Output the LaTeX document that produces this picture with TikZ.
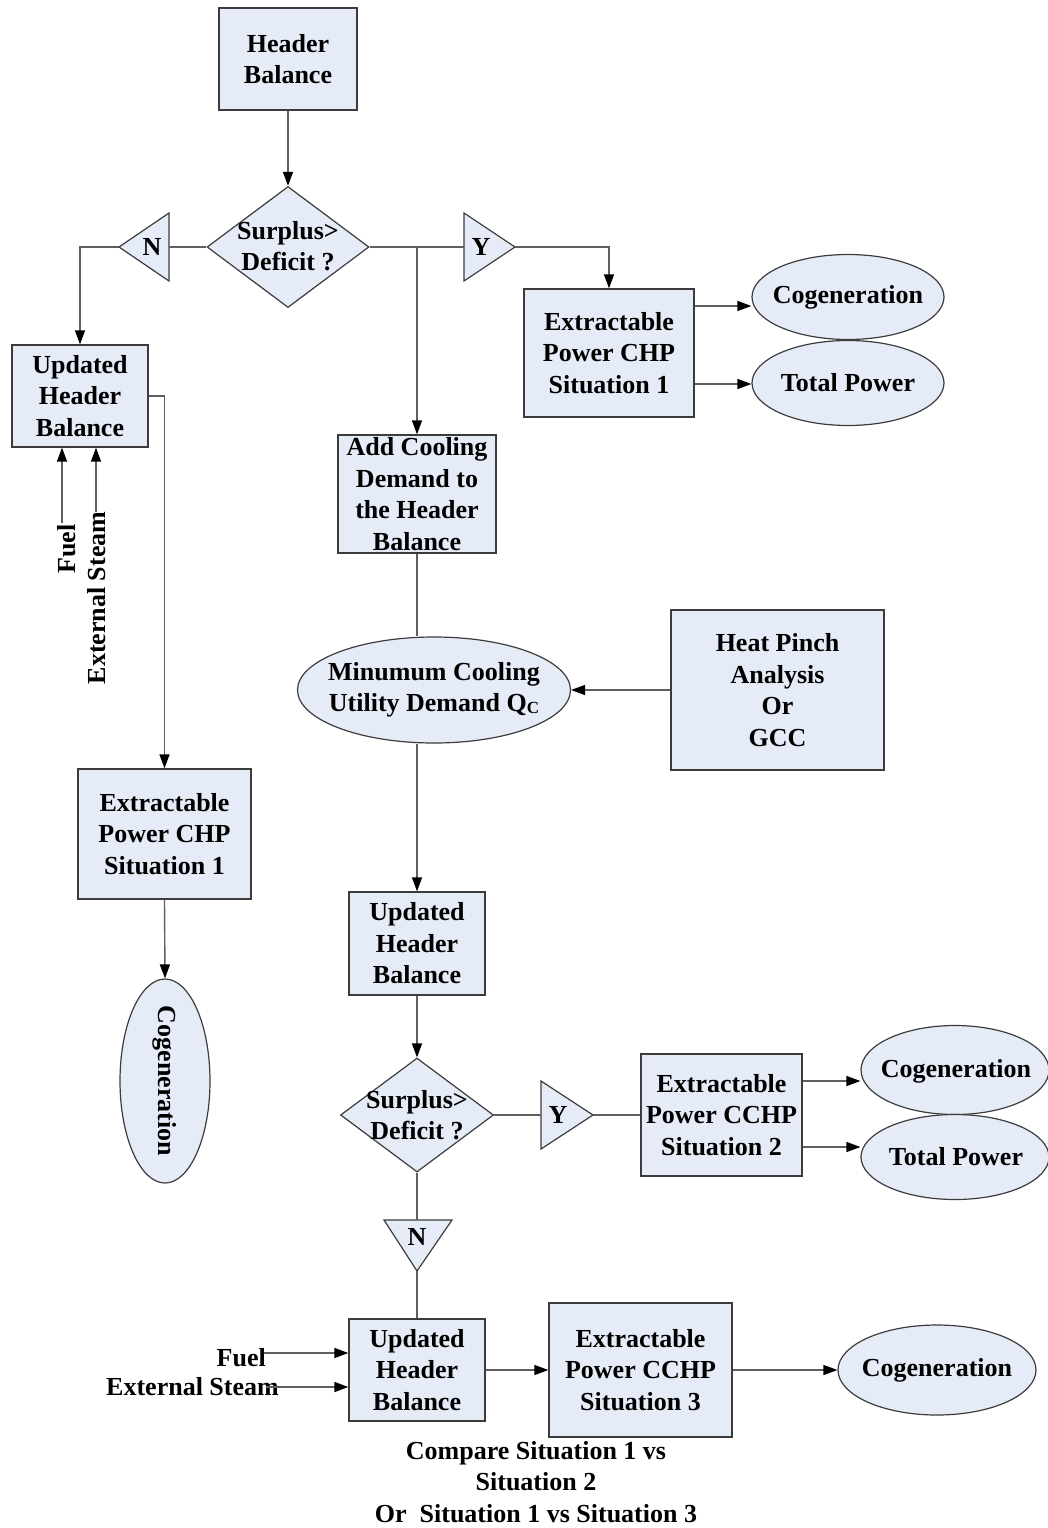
\documentclass[tikz,border=0pt]{standalone}
\usepackage{fontspec}
\setmainfont{Liberation Serif}
\usetikzlibrary{arrows.meta,shapes.geometric}
\definecolor{boxfill}{RGB}{230,236,247}
\definecolor{edge}{RGB}{60,60,60}
\definecolor{wire}{RGB}{95,95,95}

\begin{document}
\begin{tikzpicture}[x=1pt,y=-1pt,
  every node/.style={font=\bfseries\fontsize{26}{31.5}\selectfont, align=center, inner sep=0pt},
  box/.style={draw=edge, line width=1.3pt, fill=boxfill, rectangle},
  oval/.style={draw=edge, line width=1.2pt, fill=boxfill, ellipse},
  decide/.style={draw=edge, line width=1.2pt, fill=boxfill, diamond},
  flag/.style={draw=edge, line width=1.2pt, fill=boxfill, line join=miter},
  link/.style={draw=wire, line width=1.4pt},
  arrow/.style={link, -{Triangle[length=14pt,width=10pt,color=black]}},
]
\useasboundingbox (0,0) rectangle (1047,1528);

% ---------- top decision ----------
\node[box, minimum width=138pt, minimum height=102pt] (hb) at (288,59) {Header\\Balance};
\node[decide, minimum width=162pt, minimum height=121pt] (d1) at (288,247) {};
\node (d1t) at (288,246) {Surplus>\\Deficit ?};

% "N" flag pointing left
\draw[flag] (169,213) -- (169,281) -- (119,247) -- cycle;
\coordinate (n1b) at (169,247);
\coordinate (n1a) at (119,247);
\node (n1) at (152,247) {N};

% "Y" flag pointing right
\draw[flag] (464,213) -- (464,281) -- (515,247) -- cycle;
\coordinate (y1b) at (464,247);
\coordinate (y1a) at (515,247);
\node (y1) at (481,247) {Y};
\coordinate (j1) at (417,247);

% ---------- CHP situation 1 (right) ----------
\node[box, minimum width=170pt, minimum height=128pt] (ep1) at (609,353) {Extractable\\Power CHP\\Situation 1};
\node[oval, minimum width=192pt, minimum height=85pt] (cog1) at (848,297) {};
\node (cog1t) at (848,297) {Cogeneration};
\node[oval, minimum width=192pt, minimum height=85pt] (tp1) at (848,383) {};
\node (tp1t) at (848,383) {Total Power};
\coordinate (r1) at (0,306);
\coordinate (r2) at (0,384);

% ---------- left branch ----------
\node[box, minimum width=136pt, minimum height=102pt] (ub1) at (80,396) {Updated\\Header\\Balance};
\node[rotate=90] (fuel1) at (67,549) {Fuel};
\node[rotate=90] (steam1) at (96.5,598) {External Steam};
\coordinate (f1s) at (62,523);
\coordinate (s1s) at (96,512);
\node[box, minimum width=173pt, minimum height=130pt] (ep1l) at (164.5,834) {Extractable\\Power CHP\\Situation 1};
\node[oval, minimum width=90pt, minimum height=204pt] (cogv) at (165,1081) {};
\node[rotate=-90] (cogvt) at (165,1081) {Cogeneration};

% ---------- cooling branch ----------
\node[box, minimum width=158pt, minimum height=118pt] (ac) at (417,494) {Add Cooling\\Demand to\\the Header\\Balance};
\node[oval, minimum width=273pt, minimum height=106pt] (mc) at (434,690) {};
\node (mct) at (434,690) {Minumum Cooling\\Utility Demand Q\raisebox{-2pt}{\fontsize{17}{17}\selectfont C}};
\node[box, minimum width=213pt, minimum height=160pt] (hp) at (777.5,690) {Heat Pinch\\Analysis\\Or\\GCC};
\node[box, minimum width=136pt, minimum height=103pt] (ub2) at (417,943.5) {Updated\\Header\\Balance};
\node[decide, minimum width=153pt, minimum height=114pt] (d2) at (417,1115) {};
\node (d2t) at (417,1115) {Surplus>\\Deficit ?};

% "Y" flag of the second decision
\draw[flag] (541,1081) -- (541,1149) -- (593,1115) -- cycle;
\coordinate (y2b) at (541,1115);
\coordinate (y2a) at (593,1115);
\node (y2) at (558,1115) {Y};

% "N" flag pointing down
\draw[flag] (384,1220) -- (452,1220) -- (417,1271) -- cycle;
\coordinate (n2b) at (417,1220);
\coordinate (n2a) at (417,1271);
\node (n2) at (417,1237) {N};

% ---------- CCHP situation 2 ----------
\node[box, minimum width=161pt, minimum height=122pt] (ep2) at (721.5,1115) {Extractable\\Power CCHP\\Situation 2};
\node[oval, minimum width=188pt, minimum height=89pt] (cog2) at (955,1070) {};
\node (cog2t) at (956,1071) {Cogeneration};
\node[oval, minimum width=188pt, minimum height=85pt] (tp2) at (955,1157) {};
\node (tp2t) at (956,1157) {Total Power};
\coordinate (r3) at (0,1081);
\coordinate (r4) at (0,1147);

% ---------- CCHP situation 3 ----------
\node[box, minimum width=136pt, minimum height=102pt] (ub3) at (417,1370) {Updated\\Header\\Balance};
\node[anchor=east] (fuel2) at (266,1358) {Fuel};
\node[anchor=east] (steam2) at (279,1387) {External Steam};
\coordinate (f2s) at (264,1353);
\coordinate (s2s) at (266,1387);
\node[box, minimum width=183pt, minimum height=134pt] (ep3) at (640.5,1370) {Extractable\\Power CCHP\\Situation 3};
\node[oval, minimum width=198pt, minimum height=90pt] (cog3) at (937,1370) {};
\node (cog3t) at (937,1370) {Cogeneration};
\node (cmp) at (536,1482) {Compare Situation 1 vs\\Situation 2\\Or\ \ Situation 1 vs Situation 3};

% ---------- connectors ----------
\draw[arrow] (hb.south) -- (d1.north);
\draw[link] (d1.west) -- (n1b);
\draw[arrow] (n1a) -| (ub1.north);
\draw[link] (d1.east) -- (y1b);
\draw[arrow] (y1a) -| (ep1.north);
\draw[arrow] (j1) -- (ac.north);
\draw[arrow] (ep1.east |- r1) -- (cog1.west |- r1);
\draw[arrow] (ep1.east |- r2) -- (tp1.west |- r2);

\draw[arrow] (f1s) -- (ub1.south -| f1s);
\draw[arrow] (s1s) -- (ub1.south -| s1s);
\draw[arrow] (ub1.east) -| (ep1l.north);
\draw[arrow] (ep1l.south) -- (cogv.north);

\draw[link] (ac.south) -- (ac.south |- mc.north);
\draw[arrow] (hp.west) -- (mc.east);
\draw[arrow] (ac.south |- mc.south) -- (ub2.north);
\draw[arrow] (ub2.south) -- (d2.north);
\draw[link] (d2.east) -- (y2b);
\draw[link] (y2a) -- (ep2.west);
\draw[arrow] (ep2.east |- r3) -- (cog2.west |- r3);
\draw[arrow] (ep2.east |- r4) -- (tp2.west |- r4);
\draw[link] (d2.south) -- (n2b);
\draw[link] (n2a) -- (ub3.north);

\draw[arrow] (f2s) -- (f2s -| ub3.west);
\draw[arrow] (s2s) -- (s2s -| ub3.west);
\draw[arrow] (ub3.east) -- (ep3.west);
\draw[arrow] (ep3.east) -- (cog3.west);
\end{tikzpicture}
\end{document}
